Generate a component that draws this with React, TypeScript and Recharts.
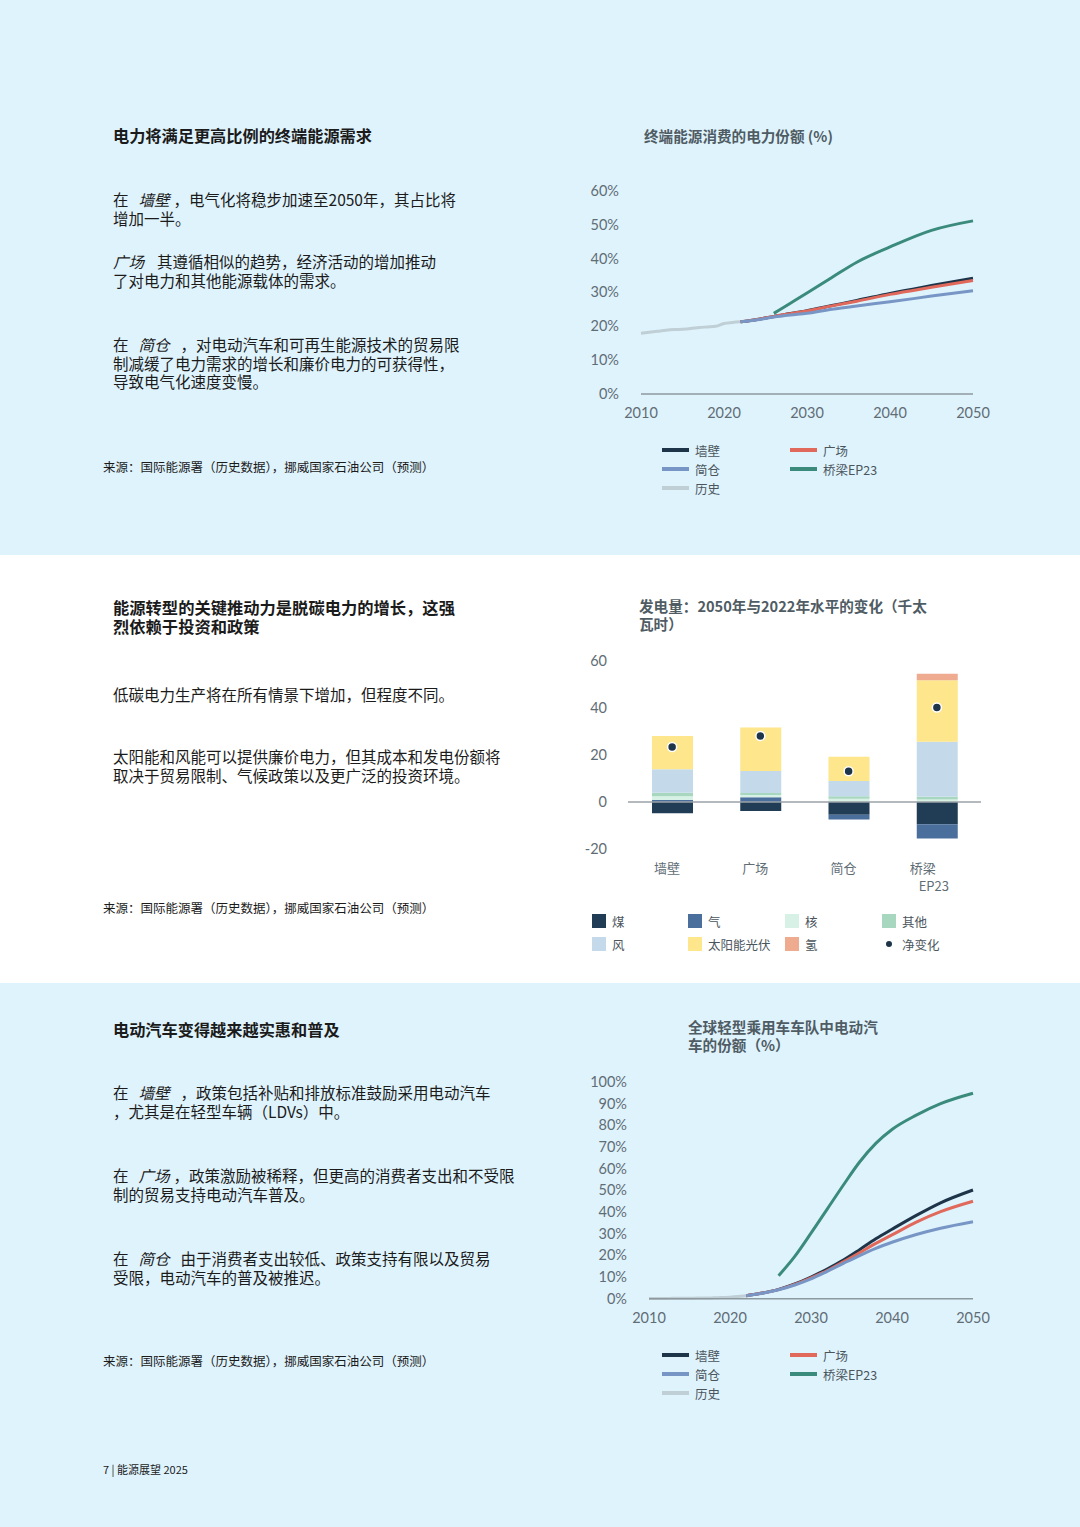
import React from 'react';
import { Bar, ComposedChart, Line, LineChart, ReferenceLine, XAxis, YAxis } from 'recharts';

const BLUE_BG = '#dff3fd';
const TICK = '#5f6d75';
const AXIS = '#8e999f';
const TITLE = '#4f5c64';
const NUM_FONT = "Lato, 'Noto Sans CJK SC', sans-serif";
const CJK_FONT = "'Noto Sans CJK SC', Lato, sans-serif";

const COLORS = {
  walls: '#1e3549',
  square: '#e0695c',
  silo: '#7896c5',
  bridge: '#3b8b7d',
  hist: '#bfcfd5',
};

// --- Chart 1: electricity share of final energy consumption (%)
const YEARS_ELEC = [
  2010, 2011, 2012, 2013, 2014, 2015, 2016, 2017, 2018, 2019, 2020, 2021, 2022,
  2024, 2026, 2028, 2030, 2033, 2036, 2040, 2045, 2050,
];
const HIST_ELEC = [
  17.9, 18.2, 18.5, 18.8, 19.0, 19.1, 19.3, 19.6, 19.8, 20.0, 20.8, 21.1, 21.3,
  null, null, null, null, null, null, null, null, null,
];
const WALLS_ELEC = [
  null, null, null, null, null, null, null, null, null, null, null, null, 21.3,
  22.0, 22.9, 23.8, 24.6, 26.1, 27.6, 29.7, 32.0, 34.2,
];
const SQUARE_ELEC = [
  null, null, null, null, null, null, null, null, null, null, null, null, 21.3,
  22.0, 22.9, 23.7, 24.5, 26.0, 27.4, 29.4, 31.5, 33.5,
];
const SILO_ELEC = [
  null, null, null, null, null, null, null, null, null, null, null, null, 21.3,
  21.9, 22.7, 23.3, 23.8, 25.0, 26.0, 27.2, 28.9, 30.5,
];
const BRIDGE_ELEC = [
  null, null, null, null, null, null, null, null, null, null, null, null, null,
  null, 23.8, 26.8, 29.8, 34.4, 38.9, 43.4, 48.3, 51.1,
];
const ELEC_TICKS_Y = [0, 10, 20, 30, 40, 50, 60];

// --- Chart 2: power generation change 2050 vs 2022 (thousand TWh)
const GEN_CATS = ['墙壁', '广场', '简仓', '桥梁\nEP23'];
const GEN_COAL = [-4.8, -3.8, -5.4, -9.5];
const GEN_GAS = [0.8, 2.0, -2.0, -6.0];
const GEN_NUCLEAR = [1.7, 1.0, 1.4, 1.1];
const GEN_OTHER = [1.4, 0.8, 1.1, 1.1];
const GEN_WIND = [10.0, 9.4, 6.4, 23.4];
const GEN_SOLAR = [14.2, 18.5, 10.4, 26.2];
const GEN_HYDROGEN = [0, 0, 0, 2.8];
const GEN_NET = [23.4, 28.1, 13.1, 40.2];
const GEN_TICKS_Y = [-20, 0, 20, 40, 60];

// --- Chart 3: EV share of light-duty passenger fleet (%)
const YEARS_EV = [
  2010, 2011, 2012, 2013, 2014, 2015, 2016, 2017, 2018, 2019, 2020, 2021, 2022,
  2024, 2026, 2028, 2030, 2032, 2034, 2036, 2038, 2040, 2043, 2046, 2050,
];
const HIST_EV = [
  0.1, 0.1, 0.1, 0.2, 0.2, 0.2, 0.3, 0.3, 0.4, 0.5, 0.7, 1.0, 1.4,
  null, null, null, null, null, null, null, null, null, null, null, null,
];
const WALLS_EV = [
  null, null, null, null, null, null, null, null, null, null, null, null, 1.4,
  2.6, 4.3, 6.8, 10.0, 13.7, 17.8, 22.6, 27.6, 32.0, 38.4, 44.2, 50.1,
];
const SQUARE_EV = [
  null, null, null, null, null, null, null, null, null, null, null, null, 1.4,
  2.6, 4.2, 6.6, 9.6, 13.0, 17.0, 21.2, 25.5, 29.4, 35.3, 40.1, 44.9,
];
const SILO_EV = [
  null, null, null, null, null, null, null, null, null, null, null, null, 1.4,
  2.5, 4.1, 6.3, 9.1, 12.6, 16.3, 19.9, 23.2, 26.0, 29.6, 32.5, 35.5,
];
const BRIDGE_EV = [
  null, null, null, null, null, null, null, null, null, null, null, null, null,
  null, 10.6, 19.5, 30.2, 41.3, 52.4, 63.0, 71.6, 78.0, 84.6, 89.9, 94.7,
];
const EV_TICKS_Y = [0, 10, 20, 30, 40, 50, 60, 70, 80, 90, 100];

const DECADES = [2010, 2020, 2030, 2040, 2050];

const elecData = YEARS_ELEC.map((year, i) => ({
  year,
  hist: HIST_ELEC[i],
  walls: WALLS_ELEC[i],
  square: SQUARE_ELEC[i],
  silo: SILO_ELEC[i],
  bridge: BRIDGE_ELEC[i],
}));

const evData = YEARS_EV.map((year, i) => ({
  year,
  hist: HIST_EV[i],
  walls: WALLS_EV[i],
  square: SQUARE_EV[i],
  silo: SILO_EV[i],
  bridge: BRIDGE_EV[i],
}));

const genData = GEN_CATS.map((cat, i) => ({
  cat,
  coal: GEN_COAL[i],
  gas: GEN_GAS[i],
  nuclear: GEN_NUCLEAR[i],
  other: GEN_OTHER[i],
  wind: GEN_WIND[i],
  solar: GEN_SOLAR[i],
  hydrogen: GEN_HYDROGEN[i],
  net: GEN_NET[i],
}));

const GEN_SERIES = [
  { key: 'coal', name: '煤', color: '#213d56' },
  { key: 'gas', name: '气', color: '#4b6f9d' },
  { key: 'nuclear', name: '核', color: '#d8f1e7' },
  { key: 'other', name: '其他', color: '#a7d8bf' },
  { key: 'wind', name: '风', color: '#c4daeb' },
  { key: 'solar', name: '太阳能光伏', color: '#fde68b' },
  { key: 'hydrogen', name: '氢', color: '#efab90' },
];

const pct = (v: number) => `${v}%`;

function Txt({
  x,
  y,
  size = 15.5,
  weight = 400,
  color = '#1b1b1b',
  lh,
  children,
}: {
  x: number;
  y: number;
  size?: number;
  weight?: number;
  color?: string;
  lh?: number;
  children: React.ReactNode;
}) {
  return (
    <div
      style={{
        position: 'absolute',
        left: x,
        top: y,
        fontSize: size,
        fontWeight: weight,
        color,
        lineHeight: `${lh ?? size * 1.25}px`,
        whiteSpace: 'nowrap',
        fontFamily: CJK_FONT,
      }}
    >
      {children}
    </div>
  );
}

// italic scenario name, padded like the reference
const I = ({ children, pre = 10, post = 11 }: { children: React.ReactNode; pre?: number; post?: number }) => (
  <span style={{ fontStyle: 'italic', marginLeft: pre, marginRight: post }}>{children}</span>
);

function LineLegend({ top }: { top: number }) {
  const items = [
    { name: '墙壁', color: COLORS.walls, x: 662, row: 0 },
    { name: '广场', color: COLORS.square, x: 790, row: 0 },
    { name: '简仓', color: COLORS.silo, x: 662, row: 1 },
    { name: '桥梁EP23', color: COLORS.bridge, x: 790, row: 1 },
    { name: '历史', color: COLORS.hist, x: 662, row: 2 },
  ];
  return (
    <>
      {items.map((it) => (
        <div
          key={it.name}
          style={{ position: 'absolute', left: it.x, top: top + it.row * 19 - 9, height: 18, display: 'flex', alignItems: 'center' }}
        >
          <span style={{ display: 'inline-block', width: 27, height: 4, background: it.color, marginRight: 6 }} />
          <span style={{ fontSize: 12.5, color: '#4a555c', fontFamily: CJK_FONT }}>{it.name}</span>
        </div>
      ))}
    </>
  );
}

function GenLegend() {
  const cols = [592, 688, 785, 882];
  const cells = [
    ...GEN_SERIES.map((s, i) => ({ ...s, col: i < 4 ? i : i - 4, row: i < 4 ? 0 : 1, dot: false })),
    { key: 'net', name: '净变化', color: '#1e3549', col: 3, row: 1, dot: true },
  ];
  return (
    <>
      {cells.map((c) => (
        <div
          key={c.key}
          style={{ position: 'absolute', left: cols[c.col], top: 921 + c.row * 23 - 9, height: 18, display: 'flex', alignItems: 'center' }}
        >
          {c.dot ? (
            <span style={{ display: 'inline-block', width: 14, marginRight: 6, textAlign: 'center', lineHeight: 0 }}>
              <span style={{ display: 'inline-block', width: 6, height: 6, borderRadius: 3, background: c.color }} />
            </span>
          ) : (
            <span style={{ display: 'inline-block', width: 14, height: 14, background: c.color, marginRight: 6 }} />
          )}
          <span style={{ fontSize: 12.5, color: '#4a555c', fontFamily: CJK_FONT }}>{c.name}</span>
        </div>
      ))}
    </>
  );
}

function ScenarioLines() {
  return [
    <Line key="hist" dataKey="hist" stroke={COLORS.hist} strokeWidth={3} dot={false} type="monotone" isAnimationActive={false} />,
    <Line key="walls" dataKey="walls" stroke={COLORS.walls} strokeWidth={3} dot={false} type="monotone" isAnimationActive={false} />,
    <Line key="square" dataKey="square" stroke={COLORS.square} strokeWidth={3} dot={false} type="monotone" isAnimationActive={false} />,
    <Line key="silo" dataKey="silo" stroke={COLORS.silo} strokeWidth={3} dot={false} type="monotone" isAnimationActive={false} />,
    <Line key="bridge" dataKey="bridge" stroke={COLORS.bridge} strokeWidth={3} dot={false} type="monotone" isAnimationActive={false} />,
  ];
}

const tickStyle = { fill: TICK, fontSize: 14.5, fontFamily: NUM_FONT };

function CatTick(props: any) {
  const { x, y, payload } = props;
  const lines = String(payload.value).split('\n');
  return (
    <text x={x} y={y} textAnchor="middle" fill={TICK} fontSize={13} fontFamily={CJK_FONT}>
      {lines.map((ln, i) => (
        <tspan key={i} x={x - 5 + (lines.length > 1 ? (i === 0 ? -9 : 2) : 0)} dy={i === 0 ? '0.75em' : 18}>
          {ln}
        </tspan>
      ))}
    </text>
  );
}

function ElecChart() {
  return (
    <div style={{ position: 'absolute', left: 580, top: 170 }}>
      <LineChart width={420} height={260} data={elecData} margin={{ top: 20.7, right: 27, bottom: 6, left: 0 }}>
        <XAxis
          dataKey="year"
          type="number"
          domain={[2010, 2050]}
          ticks={DECADES}
          tickLine={false}
          tickMargin={8}
          axisLine={{ stroke: AXIS, strokeWidth: 1.5 }}
          tick={tickStyle}
          height={30}
        />
        <YAxis
          domain={[0, 60]}
          ticks={ELEC_TICKS_Y}
          tickFormatter={pct}
          axisLine={false}
          tickLine={false}
          tickMargin={16}
          tick={tickStyle}
          width={61}
        />
        {ScenarioLines()}
      </LineChart>
    </div>
  );
}

function EvChart() {
  return (
    <div style={{ position: 'absolute', left: 580, top: 1065 }}>
      <LineChart width={420} height={270} data={evData} margin={{ top: 16.7, right: 27, bottom: 6.3, left: 0 }}>
        <XAxis
          dataKey="year"
          type="number"
          domain={[2010, 2050]}
          ticks={DECADES}
          tickLine={false}
          tickMargin={8}
          axisLine={{ stroke: AXIS, strokeWidth: 1.5 }}
          tick={tickStyle}
          height={30}
        />
        <YAxis
          domain={[0, 100]}
          ticks={EV_TICKS_Y}
          tickFormatter={pct}
          axisLine={false}
          tickLine={false}
          tickMargin={16}
          tick={tickStyle}
          width={69}
          interval={0}
        />
        {ScenarioLines()}
      </LineChart>
    </div>
  );
}

function GenChart() {
  return (
    <div style={{ position: 'absolute', left: 580, top: 645 }}>
      <ComposedChart width={420} height={260} data={genData} stackOffset="sign" margin={{ top: 16, right: 19, bottom: 16, left: 0 }}>
        <XAxis dataKey="cat" axisLine={false} tickLine={false} tickMargin={8} tick={<CatTick />} height={40} interval={0} />
        <YAxis
          domain={[-20, 60]}
          ticks={GEN_TICKS_Y}
          axisLine={false}
          tickLine={false}
          tickMargin={15}
          tick={tickStyle}
          width={48}
        />
        {GEN_SERIES.map((s) => (
          <Bar key={s.key} dataKey={s.key} stackId="g" fill={s.color} barSize={41} isAnimationActive={false} />
        ))}
        <ReferenceLine y={0} stroke="#9aa2a6" strokeWidth={1.5} />
        <Line
          dataKey="net"
          stroke="none"
          dot={{ r: 4.5, fill: '#1e3549', stroke: '#ffffff', strokeWidth: 1.5 }}
          activeDot={false}
          isAnimationActive={false}
        />
      </ComposedChart>
    </div>
  );
}

export default function App() {
  return (
    <div style={{ position: 'absolute', left: 0, top: 0, width: 1080, height: 1527, overflow: 'hidden', background: '#fff' }}>
      <style>{'html,body{margin:0;padding:0;}'}</style>
      <div style={{ position: 'absolute', left: 0, top: 0, width: 1080, height: 555, background: BLUE_BG }} />
      <div style={{ position: 'absolute', left: 0, top: 983, width: 1080, height: 544, background: BLUE_BG }} />

      {/* Panel 1 */}
      <Txt x={113} y={125} size={16.2} weight={700} lh={20}>电力将满足更高比例的终端能源需求</Txt>
      <Txt x={113} y={190} lh={18.5}>
        在<I post={4}>墙壁</I>，电气化将稳步加速至2050年，其占比将<br />增加一半。
      </Txt>
      <Txt x={113} y={252} lh={18.5}>
        <I pre={0} post={13}>广场</I>其遵循相似的趋势，经济活动的增加推动<br />了对电力和其他能源载体的需求。
      </Txt>
      <Txt x={113} y={335} lh={18.5}>
        在<I>简仓</I>，对电动汽车和可再生能源技术的贸易限<br />制减缓了电力需求的增长和廉价电力的可获得性，<br />导致电气化速度变慢。
      </Txt>
      <Txt x={103} y={460} size={12.5} lh={14}>来源：国际能源署（历史数据），挪威国家石油公司（预测）</Txt>
      <Txt x={644} y={127} size={14.6} weight={700} color={TITLE} lh={18}>终端能源消费的电力份额 (%)</Txt>
      <ElecChart />
      <LineLegend top={450} />

      {/* Panel 2 */}
      <Txt x={113} y={598} size={16.3} weight={700} lh={19}>
        能源转型的关键推动力是脱碳电力的增长，这强<br />烈依赖于投资和政策
      </Txt>
      <Txt x={113} y={685} lh={18.5}>低碳电力生产将在所有情景下增加，但程度不同。</Txt>
      <Txt x={113} y={747} lh={18.5}>
        太阳能和风能可以提供廉价电力，但其成本和发电份额将<br />取决于贸易限制、气候政策以及更广泛的投资环境。
      </Txt>
      <Txt x={103} y={901} size={12.5} lh={14}>来源：国际能源署（历史数据），挪威国家石油公司（预测）</Txt>
      <Txt x={639} y={597} size={14.6} weight={700} color={TITLE} lh={18}>
        发电量：2050年与2022年水平的变化（千太<br />瓦时）
      </Txt>
      <GenChart />
      <GenLegend />

      {/* Panel 3 */}
      <Txt x={113} y={1019} size={16.2} weight={700} lh={20}>电动汽车变得越来越实惠和普及</Txt>
      <Txt x={113} y={1083} lh={18.5}>
        在<I>墙壁</I>，政策包括补贴和排放标准鼓励采用电动汽车<br />，尤其是在轻型车辆（LDVs）中。
      </Txt>
      <Txt x={113} y={1166} lh={18.5}>
        在<I post={4}>广场</I>，政策激励被稀释，但更高的消费者支出和不受限<br />制的贸易支持电动汽车普及。
      </Txt>
      <Txt x={113} y={1249} lh={18.5}>
        在<I>简仓</I>由于消费者支出较低、政策支持有限以及贸易<br />受限，电动汽车的普及被推迟。
      </Txt>
      <Txt x={103} y={1354} size={12.5} lh={14}>来源：国际能源署（历史数据），挪威国家石油公司（预测）</Txt>
      <Txt x={688} y={1018} size={14.6} weight={700} color={TITLE} lh={18}>
        全球轻型乘用车车队中电动汽<br />车的份额（%）
      </Txt>
      <EvChart />
      <LineLegend top={1355} />

      <Txt x={103} y={1462} size={11} lh={14}>7 | 能源展望 2025</Txt>
    </div>
  );
}
